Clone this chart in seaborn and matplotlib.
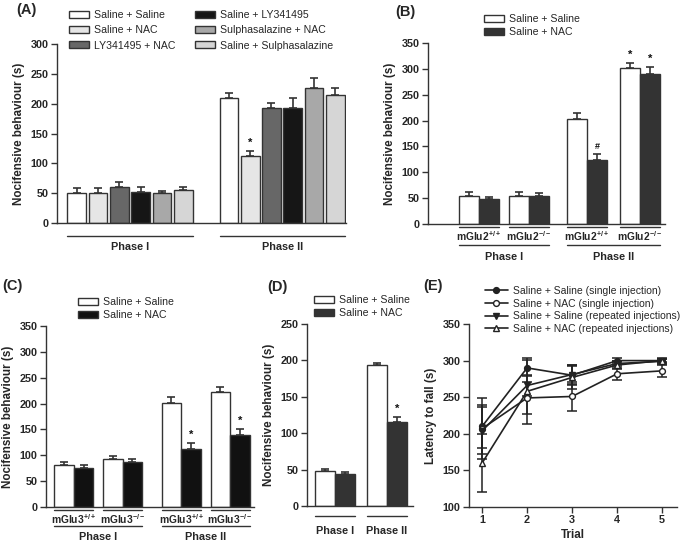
import numpy as np
import pandas as pd
import matplotlib
matplotlib.use("Agg")
import matplotlib.pyplot as plt
from matplotlib.patches import Patch
from matplotlib.lines import Line2D
import seaborn as sns

sns.set_theme(style="ticks")
plt.rcParams['font.family'] = ['Liberation Sans', 'DejaVu Sans']
plt.rcParams['mathtext.default'] = 'regular'
plt.rcParams['axes.edgecolor'] = '#333333'
plt.rcParams['axes.linewidth'] = 1.0

# ---- data -------------------------------------------------------------
# (A) formalin test, drug combinations
a_phases = ["Phase I", "Phase II"]
a_treatments = ["Saline + Saline", "Saline + NAC", "LY341495 + NAC",
                "Saline + LY341495", "Sulphasalazine + NAC", "Saline + Sulphasalazine"]
a_phase1 = [50, 50, 60, 52, 50, 56]
a_phase1_sem = [8, 9, 9, 8, 4, 5]
a_phase2 = [210, 112, 192, 193, 227, 215]
a_phase2_sem = [8, 8, 9, 16, 16, 11]
a_colors = ["#ffffff", "#e6e6e6", "#676767", "#161616", "#a8a8a8", "#d6d6d6"]

pair_groups = ["Saline + Saline", "Saline + NAC"]

# (B) mGlu2 mice
b_genotypes = ["mGlu2$^{+/+}$", "mGlu2$^{-/-}$", "mGlu2$^{+/+}$", "mGlu2$^{-/-}$"]
b_saline = [55, 55, 204, 302]
b_saline_sem = [7, 6, 11, 9]
b_nac = [48, 54, 123, 291]
b_nac_sem = [5, 5, 12, 12]

# (C) mGlu3 mice
c_genotypes = ["mGlu3$^{+/+}$", "mGlu3$^{-/-}$", "mGlu3$^{+/+}$", "mGlu3$^{-/-}$"]
c_saline = [81, 93, 202, 223]
c_saline_sem = [6, 6, 11, 10]
c_nac = [76, 87, 112, 139]
c_nac_sem = [5, 6, 12, 11]

# (D) repeated injections
d_saline = [48, 194]
d_saline_sem = [3, 3]
d_nac = [44, 116]
d_nac_sem = [3, 6]

# (E) rotarod
trials = [1, 2, 3, 4, 5]
e_labels = ["Saline + Saline (single injection)", "Saline + NAC (single injection)",
            "Saline + Saline (repeated injections)", "Saline + NAC (repeated injections)"]
e_sal_single = [210, 290, 280, 300, 300]
e_sal_single_sem = [29, 11, 14, 3, 2]
e_nac_single = [207, 249, 251, 282, 286]
e_nac_single_sem = [42, 22, 20, 8, 8]
e_sal_rep = [204, 266, 281, 296, 299]
e_sal_rep_sem = [32, 15, 13, 4, 3]
e_nac_rep = [160, 258, 277, 294, 300]
e_nac_rep_sem = [40, 45, 16, 5, 3]

EDGE = "#333333"
W, H = 685, 545


def px_axes(fig, x0, y0, x1, y1):
    # pixel box (left, top, right, bottom) -> figure axes
    return fig.add_axes([x0 / W, 1 - y1 / H, (x1 - x0) / W, (y1 - y0) / H])


def style_bar_axes(ax, ymax, step, xlim):
    sns.despine(ax=ax)
    ax.set_ylim(0, ymax)
    ax.set_yticks(np.arange(0, ymax + 1, step))
    ax.set_xlim(*xlim)
    ax.set_xticks([])
    ax.set_xlabel("")
    ax.tick_params(axis="y", direction="out", length=4, width=1, color=EDGE, pad=2)
    for t in ax.get_yticklabels():
        t.set_fontweight("bold")
        t.set_fontsize(7.8)
    ax.set_ylabel("Nocifensive behaviour (s)", fontsize=8.4, fontweight="bold", labelpad=4)


def draw_bars(ax, xs, groups, series, sems, colors, width, gap, native):
    rows = []
    for g, vals in zip(groups, series):
        for x, v in zip(xs, vals):
            rows.append({"x": x, "group": g, "value": v})
    df = pd.DataFrame(rows)
    kw = dict(order=xs) if not native else dict(native_scale=True)
    sns.barplot(data=df, x="x", y="value", hue="group", hue_order=groups,
                palette=colors, width=width, gap=gap, saturation=1,
                edgecolor=EDGE, linewidth=1.0, errorbar=None, legend=False,
                ax=ax, **kw)
    bar_conts = list(ax.containers)
    # horizontal extent of each category
    spans = []
    for i in range(len(xs)):
        lefts = [cont[i].get_x() for cont in bar_conts]
        rights = [cont[i].get_x() + cont[i].get_width() for cont in bar_conts]
        spans.append((min(lefts), max(rights)))
    tops = []
    for cont, sem in zip(bar_conts, sems):
        cx = [r.get_x() + r.get_width() / 2 for r in cont]
        hy = [r.get_height() for r in cont]
        ax.errorbar(cx, hy, yerr=[np.zeros(len(sem)), sem], fmt="none",
                    ecolor=EDGE, elinewidth=1.2, capsize=3.2, capthick=1.2, zorder=1)
        tops.append([(x, h + e) for x, h, e in zip(cx, hy, sem)])
    return tops, spans


def mark(ax, xy, txt="*"):
    ax.annotate(txt, xy, xytext=(0, 2.5), textcoords="offset points",
                ha="center", va="bottom", fontsize=8 if txt == "*" else 6.5,
                fontweight="bold", color="#111111")


def underline(ax, x0, x1, yline, label, ylab, size=7.8):
    tr = ax.get_xaxis_transform()
    ax.plot([x0, x1], [yline, yline], transform=tr, clip_on=False, color=EDGE, lw=1.0)
    ax.text((x0 + x1) / 2, ylab, label, transform=tr, ha="center", va="center",
            fontsize=size, fontweight="bold")


def box_legend(ax, labels, colors, left, top, ncol=1, spacing=0.3):
    handles = [Patch(facecolor=c, edgecolor=EDGE, linewidth=1.0) for c in colors]
    ax.legend(handles, labels, loc="upper left", bbox_to_anchor=(left / W, 1 - top / H),
              bbox_transform=ax.figure.transFigure, frameon=False, ncol=ncol,
              fontsize=7.6, handlelength=1.9, handleheight=0.6, handletextpad=0.5,
              labelspacing=spacing, columnspacing=1.8, borderpad=0, borderaxespad=0)


fig = plt.figure(figsize=(6.85, 5.45), dpi=100)

# ---- (A) ----
axA = px_axes(fig, 57, 44, 346, 223)
tops, spans = draw_bars(axA, a_phases, a_treatments,
                        [[a_phase1[i], a_phase2[i]] for i in range(6)],
                        [[a_phase1_sem[i], a_phase2_sem[i]] for i in range(6)],
                        a_colors, 0.84, 0.12, False)
style_bar_axes(axA, 300, 50, (-0.48, 1.42))
mark(axA, tops[1][1])
for (x0, x1), lab in zip(spans, a_phases):
    underline(axA, x0, x1, -0.073, lab, -0.134)
box_legend(axA, a_treatments, a_colors, 69, 10, ncol=2, spacing=0.5)
fig.text(16 / W, 1 - 10 / H, "(A)", fontsize=10.5, fontweight="bold", va="center")

# ---- (B) ----
pos = [0, 1, 2.15, 3.2]
axB = px_axes(fig, 428, 43, 665, 224)
tops, spans = draw_bars(axB, pos, pair_groups, [b_saline, b_nac],
                        [b_saline_sem, b_nac_sem], ["#ffffff", "#333333"], 0.8, 0, True)
style_bar_axes(axB, 350, 50, (-1.01, 3.70))
mark(axB, tops[1][2], "#")
mark(axB, tops[0][3])
mark(axB, tops[1][3])
for (x0, x1), lab in zip(spans, b_genotypes):
    underline(axB, x0, x1, -0.018, lab, -0.066, size=7.4)
underline(axB, spans[0][0], spans[1][1], -0.116, "Phase I", -0.18)
underline(axB, spans[2][0], spans[3][1], -0.116, "Phase II", -0.18)
box_legend(axB, pair_groups, ["#ffffff", "#333333"], 484, 14)
fig.text(395 / W, 1 - 12 / H, "(B)", fontsize=10.5, fontweight="bold", va="center")

# ---- (C) ----
pos = [0, 1, 2.2, 3.2]
axC = px_axes(fig, 46, 326, 254, 507)
tops, spans = draw_bars(axC, pos, pair_groups, [c_saline, c_nac],
                        [c_saline_sem, c_nac_sem], ["#ffffff", "#111111"], 0.8, 0, True)
style_bar_axes(axC, 350, 50, (-0.57, 3.69))
mark(axC, tops[1][2])
mark(axC, tops[1][3])
for (x0, x1), lab in zip(spans, c_genotypes):
    underline(axC, x0, x1, -0.018, lab, -0.065, size=7.4)
underline(axC, spans[0][0], spans[1][1], -0.105, "Phase I", -0.168)
underline(axC, spans[2][0], spans[3][1], -0.105, "Phase II", -0.168)
box_legend(axC, pair_groups, ["#ffffff", "#111111"], 78, 297)
fig.text(2 / W, 1 - 286 / H, "(C)", fontsize=10.5, fontweight="bold", va="center")

# ---- (D) ----
axD = px_axes(fig, 307, 324, 413, 506)
tops, spans = draw_bars(axD, ["Phase I", "Phase II"], pair_groups, [d_saline, d_nac],
                        [d_saline_sem, d_nac_sem], ["#ffffff", "#333333"], 0.78, 0, False)
style_bar_axes(axD, 250, 50, (-0.54, 1.5))
mark(axD, tops[1][1])
for (x0, x1), lab in zip(spans, ["Phase I", "Phase II"]):
    underline(axD, x0, x1, -0.055, lab, -0.137)
box_legend(axD, pair_groups, ["#ffffff", "#333333"], 314, 295)
fig.text(267 / W, 1 - 287 / H, "(D)", fontsize=10.5, fontweight="bold", va="center")

# ---- (E) ----
axE = px_axes(fig, 469, 324, 677, 507)
e_series = [e_sal_single, e_nac_single, e_sal_rep, e_nac_rep]
e_sems = [e_sal_single_sem, e_nac_single_sem, e_sal_rep_sem, e_nac_rep_sem]
e_markers = ["o", "o", "v", "^"]
e_faces = ["#222222", "white", "#222222", "white"]
handles = []
for vals, sem, m, fc, lab in zip(e_series, e_sems, e_markers, e_faces, e_labels):
    axE.errorbar(trials, vals, yerr=sem, fmt="none", ecolor="#222222",
                 elinewidth=1.1, capsize=3.5, capthick=1.1, zorder=2)
    sns.lineplot(x=trials, y=vals, ax=axE, color="#222222", lw=1.2, marker=m,
                 markersize=4.2, markerfacecolor=fc, markeredgecolor="#222222",
                 markeredgewidth=1.0, zorder=3)
    handles.append(Line2D([0], [0], color="#222222", lw=1.2, marker=m, markersize=4.2,
                          markerfacecolor=fc, markeredgecolor="#222222"))
sns.despine(ax=axE)
axE.set_xlim(0.71, 5.33)
axE.set_ylim(100, 350)
axE.set_xticks(trials)
axE.set_yticks(np.arange(100, 351, 50))
axE.tick_params(direction="out", length=4, width=1, color=EDGE, pad=2)
for t in axE.get_xticklabels() + axE.get_yticklabels():
    t.set_fontweight("bold")
    t.set_fontsize(7.8)
axE.set_xlabel("Trial", fontsize=8.4, fontweight="bold", labelpad=3)
axE.set_ylabel("Latency to fall (s)", fontsize=8.4, fontweight="bold", labelpad=4)
axE.legend(handles, e_labels, loc="upper left", bbox_to_anchor=(485 / W, 1 - 286 / H),
           bbox_transform=fig.transFigure, frameon=False, fontsize=7.5,
           handlelength=2.2, handletextpad=0.5, labelspacing=0.25,
           borderpad=0, borderaxespad=0)
fig.text(423 / W, 1 - 286 / H, "(E)", fontsize=10.5, fontweight="bold", va="center")

fig.savefig("out.png", dpi=100)
